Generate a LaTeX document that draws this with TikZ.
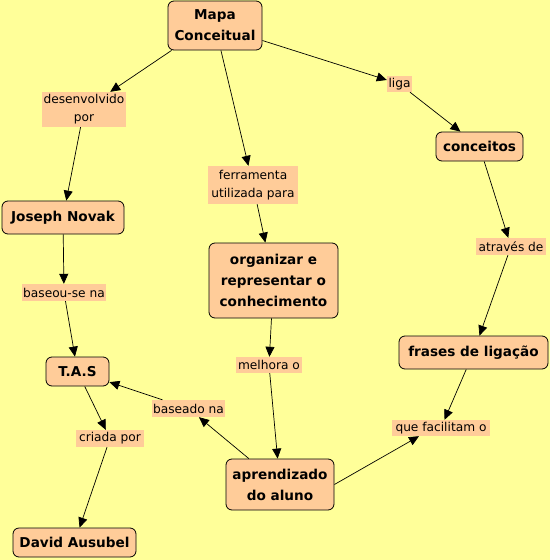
\documentclass[tikz,border=0pt]{standalone}
\usepackage{fontspec}
\setmainfont{DejaVu Sans}
\usetikzlibrary{arrows.meta}
\definecolor{bg}{HTML}{FFFF99}
\definecolor{peach}{HTML}{FFCC99}
\begin{document}
\begin{tikzpicture}[x=1pt,y=-1pt,
  concept/.style={draw=black, fill=peach, rounded corners=6pt, line width=0.8pt,
    font=\bfseries\fontsize{13.6}{21}\selectfont, align=center, inner sep=0pt},
  link/.style={fill=peach, font=\fontsize{12.2}{18}\selectfont, align=center, inner sep=0pt},
  arr/.style={-{Triangle[length=10pt,width=9pt]}, line width=0.7pt}]
\fill[bg] (0,0) rectangle (550,560);
\useasboundingbox (0,0) rectangle (550,560);
% concepts
\node[concept, minimum width=94, minimum height=49] (mapa) at (215,25.5) {Mapa\\Conceitual};
\node[concept, minimum width=122, minimum height=33] (novak) at (63,217.5) {Joseph Novak};
\node[concept, minimum width=87, minimum height=29] (conc) at (479.5,146.5) {conceitos};
\node[concept, minimum width=129, minimum height=75] (org) at (273.5,280.5) {organizar e\\representar o\\conhecimento};
\node[concept, minimum width=149, minimum height=33] (frases) at (473.5,352.5) {frases de ligação};
\node[concept, minimum width=63, minimum height=29] (tas) at (77.5,371.5) {T.A.S};
\node[concept, minimum width=108, minimum height=51] (aprend) at (280,484.5) {aprendizado\\do aluno};
\node[concept, minimum width=123, minimum height=29] (david) at (74.5,542.5) {David Ausubel};
% linking phrases
\node[link, minimum width=84, minimum height=35] (desenv) at (84,109.5) {desenvolvido\\por};
\node[link, minimum width=25, minimum height=16] (liga) at (399.5,84) {liga};
\node[link, minimum width=90, minimum height=38] (ferr) at (253,185) {ferramenta\\utilizada para};
\node[link, minimum width=70, minimum height=17] (atraves) at (511,246.5) {através de};
\node[link, minimum width=84, minimum height=17] (baseou) at (64,292.5) {baseou-se na};
\node[link, minimum width=66, minimum height=16] (melhora) at (269,365) {melhora o};
\node[link, minimum width=73, minimum height=17] (baseado) at (188.5,408.5) {baseado na};
\node[link, minimum width=98, minimum height=16] (quef) at (441,428) {que facilitam o};
\node[link, minimum width=68, minimum height=17] (criada) at (110,438.5) {criada por};
% connectors
\draw[arr] ([xshift=4pt]mapa.south west) -- (desenv);
\draw[arr] (desenv) -- (novak);
\draw[arr] (mapa) -- (liga);
\draw[arr] (liga) -- (conc);
\draw[arr] (mapa) -- (ferr);
\draw[arr] (ferr) -- (org);
\draw[arr] (conc) -- (atraves);
\draw[arr] (atraves) -- (frases);
\draw[arr] (novak) -- (baseou);
\draw[arr] (baseou) -- (tas);
\draw[arr] (org) -- (melhora);
\draw[arr] (melhora) -- (aprend);
\draw[arr] (aprend) -- (baseado);
\draw[arr] (baseado) -- (tas);
\draw[arr] (frases) -- (quef);
\draw[arr] (aprend.east) -- ([xshift=-22pt]quef.south);
\draw[arr] (tas) -- (criada);
\draw[arr] (criada) -- (david);
\end{tikzpicture}
\end{document}
